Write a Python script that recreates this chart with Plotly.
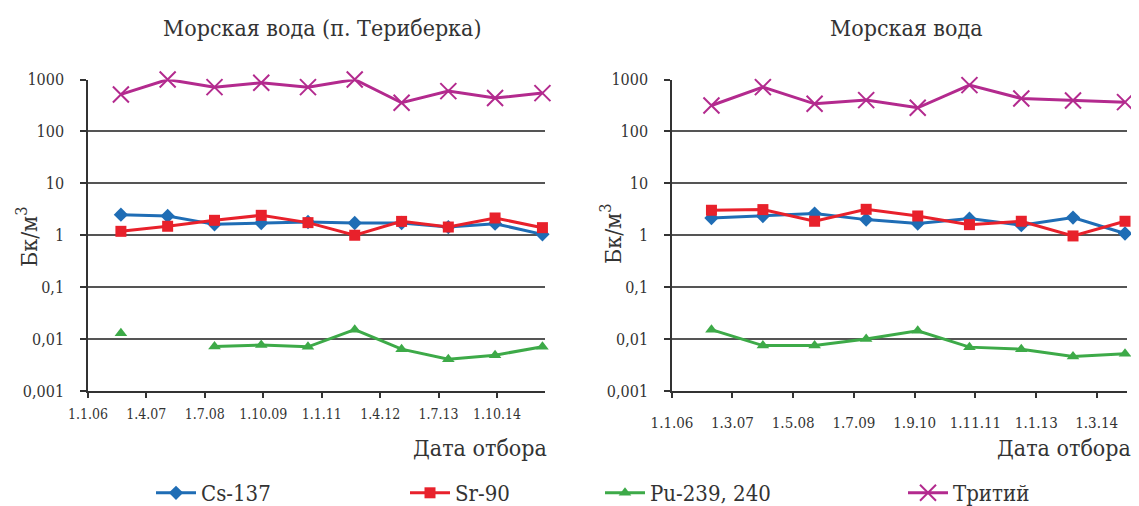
import plotly.graph_objects as go

# ---------------- data ----------------
dates_left = ["2006-09-15", "2007-09-15", "2008-09-15", "2009-09-15", "2010-09-15",
              "2011-09-15", "2012-09-15", "2013-09-15", "2014-09-15", "2015-09-20"]
cs_left = [2.49, 2.35, 1.62, 1.72, 1.80, 1.72, 1.72, 1.44, 1.67, 1.04]
sr_left = [1.19, 1.49, 1.94, 2.42, 1.75, 1.00, 1.85, 1.44, 2.15, 1.40]
pu_left = [0.0130, None, 0.0072, 0.0077, 0.0071, 0.0152, 0.0064, 0.0041, 0.0049, 0.0071]
h3_left = [516, 1000, 713, 863, 713, 1000, 357, 598, 439, 547]

dates_right = ["2006-10-05", "2007-10-01", "2008-09-28", "2009-09-25", "2010-09-22",
               "2011-09-20", "2012-09-18", "2013-09-16", "2014-09-16"]
cs_right = [2.15, 2.35, 2.61, 2.00, 1.68, 2.09, 1.56, 2.19, 1.08]
sr_right = [3.03, 3.12, 1.86, 3.16, 2.35, 1.60, 1.86, 0.97, 1.86]
pu_right = [0.0152, 0.0075, 0.0075, 0.0100, 0.0145, 0.0070, 0.0064, 0.0046, 0.0052]
h3_right = [316, 712, 340, 401, 285, 778, 431, 395, 366]

series_names = ["Cs-137", "Sr-90", "Pu-239, 240", "Тритий"]

xticks_left = ["2006-01-01", "2007-04-01", "2008-07-01", "2009-10-01",
               "2011-01-01", "2012-04-01", "2013-07-01", "2014-10-01"]
xticklabels_left = ["1.1.06", "1.4.07", "1.7.08", "1.10.09", "1.1.11", "1.4.12", "1.7.13", "1.10.14"]
xticks_right = ["2006-01-01", "2007-03-01", "2008-05-01", "2009-07-01",
                "2010-09-01", "2011-11-01", "2013-01-01", "2014-03-01"]
xticklabels_right = ["1.1.06", "1.3.07", "1.5.08", "1.7.09", "1.9.10", "1.11.11", "1.1.13", "1.3.14"]

yticks = [0.001, 0.01, 0.1, 1, 10, 100, 1000]
yticklabels = ["0,001", "0,01", "0,1", "1", "10", "100", "1000"]

title_left = "Морская вода (п. Териберка)"
title_right = "Морская вода"
xtitle = "Дата отбора"
ytitle = "Бк/м<sup>3</sup>"

# ---------------- styling ----------------
FONT = "DejaVu Serif Condensed, DejaVu Serif, Liberation Serif, serif"
TXT = "#333333"
colors = ["#1F6DB5", "#E8212B", "#3DAA48", "#B32A8E"]
symbols = ["diamond", "square", "triangle-up", "x-thin"]
msizes = [11, 11, 11, 16]
legend_ids = ["legend", "legend2", "legend3", "legend4"]
legend_px = [151, 405, 600, 903]

# the page body has an 8px margin: figure is drawn at (8, 8)
OFF = 8
W, H = 1139 - OFF, 506 - OFF

def px_x(p):
    return (p - OFF) / W

def px_y(p):
    return 1 - (p - OFF) / H

fig = go.Figure()

left_sets = [cs_left, sr_left, pu_left, h3_left]
right_sets = [cs_right, sr_right, pu_right, h3_right]

for i, name in enumerate(series_names):
    marker = dict(symbol=symbols[i], size=msizes[i], color=colors[i])
    if symbols[i] == "x-thin":
        marker["line"] = dict(color=colors[i], width=2)
    fig.add_trace(go.Scatter(
        x=dates_left, y=left_sets[i], name=name, mode="lines+markers",
        line=dict(color=colors[i], width=3), marker=marker,
        xaxis="x", yaxis="y", cliponaxis=False, connectgaps=False,
        showlegend=True, legendgroup=name, legend=legend_ids[i]))
    fig.add_trace(go.Scatter(
        x=dates_right, y=right_sets[i], name=name, mode="lines+markers",
        line=dict(color=colors[i], width=3), marker=marker,
        xaxis="x2", yaxis="y2", cliponaxis=False,
        showlegend=False, legendgroup=name, legend=legend_ids[i]))

ydom = [px_y(391), px_y(79.5)]

xcommon = dict(type="date", showgrid=False, showline=True, linecolor="#333333", linewidth=1.5,
               ticks="outside", ticklen=5, tickcolor="#333333", tickwidth=1.5,
               zeroline=False, automargin=False)
ycommon = dict(type="log", range=[-3, 3], tickvals=yticks, ticktext=yticklabels,
               showgrid=True, gridcolor="#555555", gridwidth=1.5,
               showline=True, linecolor="#333333", linewidth=1.5,
               ticks="outside", ticklen=6, tickcolor="#333333", tickwidth=1.5,
               zeroline=False, ticklabelstandoff=13, automargin=False,
               tickfont=dict(family=FONT, size=16, color=TXT), domain=ydom)

layout_legends = {}
for lid, lx in zip(legend_ids, legend_px):
    layout_legends[lid] = dict(orientation="h", x=px_x(lx), xanchor="left",
                               y=px_y(493), yanchor="middle",
                               font=dict(family=FONT, size=22, color=TXT), itemwidth=40,
                               bgcolor="rgba(0,0,0,0)")

fig.update_layout(
    width=W, height=H,
    margin=dict(l=0, r=0, t=0, b=0, autoexpand=False),
    paper_bgcolor="white", plot_bgcolor="white",
    font=dict(family=FONT, color=TXT),
    xaxis=dict(xcommon, domain=[px_x(88), px_x(545)], anchor="y",
               range=["2006-01-01", "2015-10-10"],
               tickvals=xticks_left, ticktext=xticklabels_left, ticklabelstandoff=4,
               tickfont=dict(family=FONT, size=14, color=TXT)),
    yaxis=dict(ycommon, anchor="x"),
    xaxis2=dict(xcommon, domain=[px_x(672), px_x(1127)], anchor="y2",
                range=["2006-01-01", "2014-09-30"],
                tickvals=xticks_right, ticktext=xticklabels_right, ticklabelstandoff=12,
                tickfont=dict(family=FONT, size=15, color=TXT)),
    yaxis2=dict(ycommon, anchor="x2"),
    showlegend=True,
    **layout_legends,
)

annots = [
    dict(text=title_left, x=px_x(322), y=px_y(28)),
    dict(text=title_right, x=px_x(906), y=px_y(28)),
    dict(text=xtitle, x=px_x(549), y=px_y(448), xanchor="right"),
    dict(text=xtitle, x=px_x(1133), y=px_y(448), xanchor="right"),
    dict(text=ytitle, x=px_x(27), y=px_y(237), textangle=-90),
    dict(text=ytitle, x=px_x(611), y=px_y(234), textangle=-90),
]
for a in annots:
    a.setdefault("xanchor", "center")
    fig.add_annotation(xref="paper", yref="paper", showarrow=False, yanchor="middle",
                       font=dict(family=FONT, size=23, color=TXT), **a)

fig.write_html("out.html")
